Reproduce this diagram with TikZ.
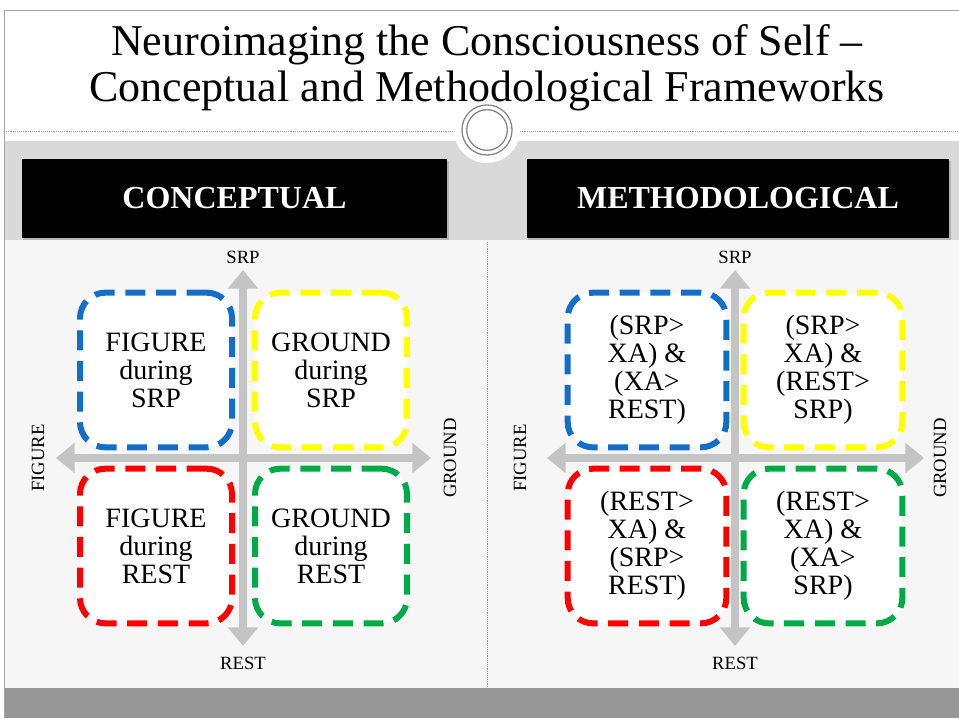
\documentclass[tikz,border=0pt]{standalone}
\usepackage{fontspec}
\setmainfont{Liberation Serif}
\usetikzlibrary{arrows.meta, positioning, shadows}
\definecolor{qblue}{RGB}{18,110,200}
\definecolor{qyellow}{RGB}{255,255,0}
\definecolor{qred}{RGB}{255,0,0}
\definecolor{qgreen}{RGB}{0,170,70}
\definecolor{axisgray}{RGB}{196,196,196}
\definecolor{bandgray}{RGB}{217,217,217}
\definecolor{panelgray}{RGB}{246,246,246}
\definecolor{footgray}{RGB}{150,150,150}
\tikzset{
  quad/.style={draw, line width=4.5pt, dash pattern=on 15pt off 8pt, rounded corners=19pt,
    fill=white, minimum width=114pt, minimum height=116pt, align=center,
    font=\fontsize{21}{21}\selectfont},
  header/.style={fill=black, text=white, font=\bfseries\fontsize{24}{26}\selectfont,
    minimum height=59pt, drop shadow={shadow xshift=1pt, shadow yshift=-1.5pt, opacity=0.4}},
  axis/.style={draw=axisgray, line width=6.5pt, {Triangle[width=22pt,length=14pt]}-{Triangle[width=22pt,length=14pt]}},
  axlabel/.style={font=\fontsize{14}{16}\selectfont},
}

\begin{document}
\begin{tikzpicture}[x=0.75pt,y=-0.75pt]
  \useasboundingbox (0,0) rectangle (959,718);
  \fill[white] (0,0) rectangle (959,718);

  % slide background
  \fill[bandgray] (4,141) rectangle (959,240);
  \fill[panelgray] (5,240) rectangle (959,688);
  \fill[footgray] (5,688) rectangle (959,718);
  \draw[gray!70, line width=0.75pt] (4,718) -- (4,10) -- (959,10);
  \draw[gray!80, densely dotted] (4,131) -- (455,131);
  \draw[gray!80, densely dotted] (518,131) -- (959,131);
  \draw[gray!80, densely dotted] (487,242) -- (487,688);

  % ornament
  \fill[white] (487,130) circle[radius=33];
  \node[circle, draw=gray, line width=1pt, double=white, double distance=2.5pt,
    minimum size=34pt, fill=white] (ring) at (487,130) {};

  % title
  \node[font=\fontsize{33}{34.5}\selectfont, align=center] (title) at (487,68)
    {Neuroimaging the Consciousness of Self --\\Conceptual and Methodological Frameworks};

  % headers
  \node[header, minimum width=319pt] (conc) at (234.5,198.5) {CONCEPTUAL};
  \node[header, minimum width=317pt] (meth) at (738,198.5) {METHODOLOGICAL};

  % conceptual quadrant
  \coordinate (ltop) at (243,270);
  \coordinate (lbot) at (243,646);
  \coordinate (lleft) at (56,458);
  \coordinate (lright) at (431,458);
  \draw[axis] (lbot) -- (ltop);
  \draw[axis] (lleft) -- (lright);
  \node[axlabel] (lsrp) at (243,257) {SRP};
  \node[axlabel] (lrest) at (243,663) {REST};
  \node[axlabel, rotate=90] (lfig) at (38,458) {FIGURE};
  \node[axlabel, rotate=90] (lgnd) at (450,458) {GROUND};

  \node[quad, draw=qblue] (figsrp) at (156,370) {FIGURE\\during\\SRP};
  \node[quad, draw=qyellow] (gndsrp) at (331,370) {GROUND\\during\\SRP};
  \node[quad, draw=qred] (figrest) at (156,546) {FIGURE\\during\\REST};
  \node[quad, draw=qgreen] (gndrest) at (331,546) {GROUND\\during\\REST};

  % methodological quadrant
  \coordinate (rtop) at (735,270);
  \coordinate (rbot) at (735,646);
  \coordinate (rleft) at (547,458);
  \coordinate (rright) at (924,458);
  \draw[axis] (rbot) -- (rtop);
  \draw[axis] (rleft) -- (rright);
  \node[axlabel] (rsrp) at (735,257) {SRP};
  \node[axlabel] (rrest) at (735,663) {REST};
  \node[axlabel, rotate=90] (rfig) at (520,458) {FIGURE};
  \node[axlabel, rotate=90] (rgnd) at (940,458) {GROUND};

  \node[quad, draw=qblue, minimum width=119pt] (mfigsrp) at (647,370) {(SRP>\\XA) \&\\(XA>\\REST)};
  \node[quad, draw=qyellow, minimum width=119pt] (mgndsrp) at (823,370) {(SRP>\\XA) \&\\(REST>\\SRP)};
  \node[quad, draw=qred, minimum width=119pt] (mfigrest) at (647,546) {(REST>\\XA) \&\\(SRP>\\REST)};
  \node[quad, draw=qgreen, minimum width=119pt] (mgndrest) at (823,546) {(REST>\\XA) \&\\(XA>\\SRP)};
\end{tikzpicture}
\end{document}
